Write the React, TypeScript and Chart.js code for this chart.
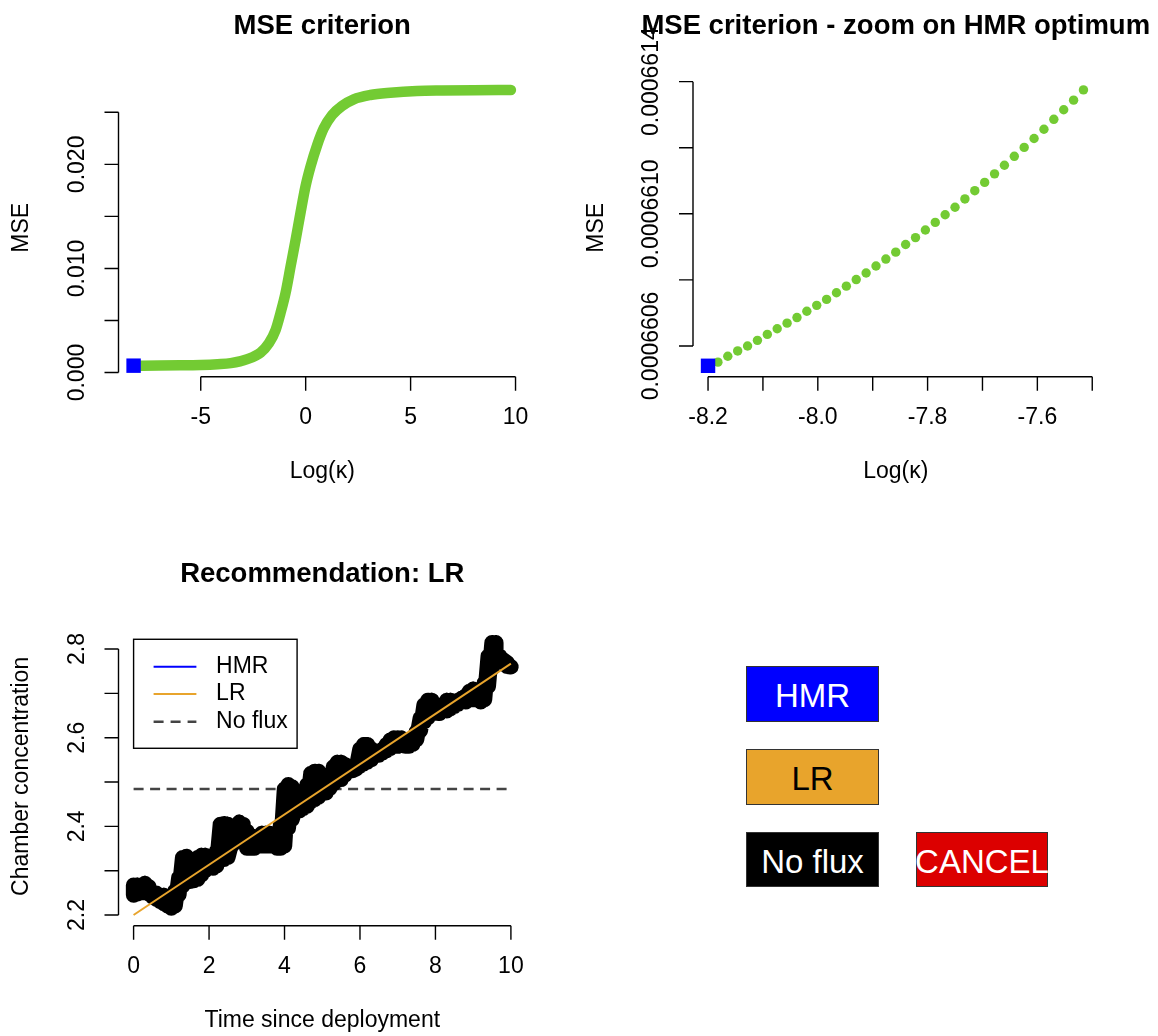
import React, { useEffect, useRef } from 'react';
import { Chart, registerables } from 'chart.js';

Chart.register(...registerables);

const FONT = '"Liberation Sans", Arial, Helvetica, sans-serif';
const GREEN = '#73CB33';
const BLUE = '#0000FF';
const ORANGE = '#E8A42C';
const RED = '#DC0000';
const DASH_GREY = '#444444';

// ---------- Panel 1: MSE criterion ----------
const mseLogK = [-8.2, -7.0, -6.0, -5.0, -4.2, -3.57, -2.78, -2.15, -1.75, -1.43, -1.2, -0.96, -0.72, -0.48, -0.25, -0.01, 0.23, 0.55, 0.86, 1.26, 1.73, 2.29, 3.08, 4.03, 5.3, 6.5, 8.0, 9.78];
const mseValues = [0.00066, 0.00067, 0.00069, 0.00073, 0.0008, 0.0009, 0.00129, 0.00192, 0.00282, 0.0041, 0.0057, 0.00762, 0.01018, 0.01274, 0.0153, 0.01786, 0.01978, 0.02186, 0.02346, 0.02474, 0.02561, 0.02625, 0.02666, 0.02688, 0.02705, 0.0271, 0.02713, 0.02714];
const hmrOptLogK = -8.2;
const hmrOptMse = 0.00066054;
const p1XRange = [-8.919, 10.499];
const p1YRange = [-0.000399, 0.028199];
const p1XTicks = [-5, 0, 5, 10];
const p1XLabels = ['-5', '0', '5', '10'];
const p1YTicks = [0, 0.005, 0.01, 0.015, 0.02, 0.025];
const p1YLabels = ['0.000', '', '0.010', '', '0.020', ''];

// ---------- Panel 2: zoom on HMR optimum ----------
const zoomLogK = [-8.2, -8.182, -8.164, -8.146, -8.128, -8.11, -8.092, -8.074, -8.056, -8.038, -8.02, -8.002, -7.984, -7.966, -7.948, -7.93, -7.912, -7.894, -7.876, -7.858, -7.84, -7.822, -7.804, -7.786, -7.768, -7.75, -7.732, -7.714, -7.696, -7.678, -7.66, -7.642, -7.624, -7.606, -7.588, -7.57, -7.552, -7.534, -7.516];
const zoomMse = [0.00066054, 0.000660551, 0.000660569, 0.000660585, 0.0006606, 0.000660617, 0.000660635, 0.000660652, 0.000660669, 0.000660686, 0.000660705, 0.000660723, 0.000660741, 0.000660761, 0.000660781, 0.000660801, 0.000660821, 0.000660842, 0.000660863, 0.000660884, 0.000660907, 0.000660928, 0.000660951, 0.000660974, 0.000660997, 0.00066102, 0.000661045, 0.00066107, 0.000661095, 0.000661121, 0.000661147, 0.000661174, 0.000661201, 0.000661228, 0.000661256, 0.000661286, 0.000661315, 0.000661344, 0.000661375];
const p2XRange = [-8.2274, -7.4886];
const p2YRange = [0.000660507, 0.000661408];
const p2XTicks = [-8.2, -8.1, -8.0, -7.9, -7.8, -7.7, -7.6, -7.5];
const p2XLabels = ['-8.2', '', '-8.0', '', '-7.8', '', '-7.6', ''];
const p2YTicks = [0.0006606, 0.0006608, 0.000661, 0.0006612, 0.0006614];
const p2YLabels = ['0.0006606', '', '0.0006610', '', '0.0006614'];

// ---------- Panel 3: chamber concentration ----------
const concTime = [0, 0.1, 0.2, 0.3, 0.4, 0.5, 0.6, 0.7, 0.8, 0.9, 1, 1.1, 1.2, 1.3, 1.4, 1.5, 1.6, 1.7, 1.8, 1.9, 2, 2.1, 2.2, 2.3, 2.4, 2.5, 2.6, 2.7, 2.8, 2.9, 3, 3.1, 3.2, 3.3, 3.4, 3.5, 3.6, 3.7, 3.8, 3.9, 4, 4.1, 4.2, 4.3, 4.4, 4.5, 4.6, 4.7, 4.8, 4.9, 5, 5.1, 5.2, 5.3, 5.4, 5.5, 5.6, 5.7, 5.8, 5.9, 6, 6.1, 6.2, 6.3, 6.4, 6.5, 6.6, 6.7, 6.8, 6.9, 7, 7.1, 7.2, 7.3, 7.4, 7.5, 7.6, 7.7, 7.8, 7.9, 8, 8.1, 8.2, 8.3, 8.4, 8.5, 8.6, 8.7, 8.8, 8.9, 9, 9.1, 9.2, 9.3, 9.4, 9.5, 9.6, 9.7, 9.8, 9.9, 10];
const concHigh = [2.267, 2.267, 2.264, 2.271, 2.264, 2.249, 2.249, 2.244, 2.244, 2.239, 2.234, 2.254, 2.284, 2.329, 2.332, 2.314, 2.284, 2.329, 2.334, 2.334, 2.324, 2.314, 2.344, 2.404, 2.406, 2.404, 2.364, 2.399, 2.409, 2.404, 2.389, 2.379, 2.374, 2.374, 2.384, 2.384, 2.384, 2.379, 2.384, 2.404, 2.484, 2.494, 2.489, 2.444, 2.444, 2.464, 2.494, 2.519, 2.524, 2.524, 2.514, 2.484, 2.514, 2.534, 2.544, 2.544, 2.539, 2.534, 2.534, 2.53, 2.574, 2.584, 2.584, 2.574, 2.565, 2.569, 2.574, 2.584, 2.594, 2.599, 2.599, 2.599, 2.594, 2.584, 2.594, 2.614, 2.644, 2.674, 2.684, 2.684, 2.674, 2.655, 2.674, 2.684, 2.684, 2.674, 2.684, 2.689, 2.694, 2.704, 2.709, 2.704, 2.689, 2.724, 2.784, 2.814, 2.814, 2.784, 2.775, 2.769, 2.76];
const concLow = [2.245, 2.248, 2.251, 2.251, 2.248, 2.241, 2.236, 2.231, 2.226, 2.221, 2.216, 2.221, 2.246, 2.266, 2.286, 2.276, 2.278, 2.281, 2.291, 2.301, 2.306, 2.306, 2.311, 2.326, 2.326, 2.331, 2.356, 2.366, 2.366, 2.366, 2.351, 2.351, 2.351, 2.356, 2.356, 2.356, 2.356, 2.356, 2.351, 2.351, 2.356, 2.396, 2.416, 2.436, 2.436, 2.441, 2.446, 2.456, 2.461, 2.466, 2.476, 2.476, 2.486, 2.496, 2.506, 2.506, 2.516, 2.526, 2.526, 2.53, 2.536, 2.541, 2.546, 2.551, 2.565, 2.561, 2.566, 2.571, 2.576, 2.581, 2.581, 2.586, 2.581, 2.581, 2.586, 2.596, 2.616, 2.636, 2.646, 2.656, 2.656, 2.655, 2.661, 2.661, 2.666, 2.671, 2.676, 2.681, 2.681, 2.686, 2.686, 2.686, 2.681, 2.686, 2.716, 2.756, 2.776, 2.781, 2.775, 2.761, 2.76];
const lrTime = [0, 10];
const lrFit = [2.2, 2.767];
const noFluxTime = [0, 10];
const noFluxLevel = [2.484, 2.484];
const p3XRange = [-0.4, 10.4];
const p3YRange = [2.1759, 2.8497];
const p3XTicks = [0, 2, 4, 6, 8, 10];
const p3XLabels = ['0', '2', '4', '6', '8', '10'];
const p3YTicks = [2.2, 2.3, 2.4, 2.5, 2.6, 2.7, 2.8];
const p3YLabels = ['2.2', '', '2.4', '', '2.6', '', '2.8'];
const legendLabels = ['HMR', 'LR', 'No flux'];
const legendColors = [BLUE, ORANGE, DASH_GREY];
const legendAnchor = [0, 2.822];

// ---------- Panel 4: buttons ----------
const buttonLabels = ['HMR', 'LR', 'No flux', 'CANCEL'];
const buttonFills = [BLUE, ORANGE, '#000000', RED];
const buttonText = ['#FFFFFF', '#000000', '#FFFFFF', '#FFFFFF'];
const buttonBoxes = [
  { left: 746, top: 666, width: 133, height: 56 },
  { left: 746, top: 749, width: 133, height: 56 },
  { left: 746, top: 832, width: 133, height: 55 },
  { left: 916, top: 832, width: 132, height: 55 },
];

const TICK_LEN = 14;
const TICK_FONT = 23;
const TITLE_FONT = 27.5;

const rAxesPlugin = {
  id: 'rAxes',
  afterDraw(chart: any, _args: any, opts: any) {
    const ctx = chart.ctx as CanvasRenderingContext2D;
    const xs = chart.scales.x;
    const ys = chart.scales.y;
    const ca = chart.chartArea;
    ctx.save();
    ctx.strokeStyle = '#000';
    ctx.fillStyle = '#000';
    ctx.lineWidth = 1.4;

    const xp = opts.xTicks.map((v: number) => xs.getPixelForValue(v));
    ctx.beginPath();
    ctx.moveTo(xp[0], ca.bottom);
    ctx.lineTo(xp[xp.length - 1], ca.bottom);
    xp.forEach((p: number) => {
      ctx.moveTo(p, ca.bottom);
      ctx.lineTo(p, ca.bottom + TICK_LEN);
    });
    ctx.stroke();

    const yp = opts.yTicks.map((v: number) => ys.getPixelForValue(v));
    ctx.beginPath();
    ctx.moveTo(ca.left, yp[0]);
    ctx.lineTo(ca.left, yp[yp.length - 1]);
    yp.forEach((p: number) => {
      ctx.moveTo(ca.left, p);
      ctx.lineTo(ca.left - TICK_LEN, p);
    });
    ctx.stroke();

    ctx.font = `${TICK_FONT}px ${FONT}`;
    ctx.textAlign = 'center';
    ctx.textBaseline = 'middle';
    xp.forEach((p: number, i: number) => {
      if (opts.xLabels[i]) ctx.fillText(opts.xLabels[i], p, ca.bottom + 41);
    });
    yp.forEach((p: number, i: number) => {
      if (!opts.yLabels[i]) return;
      ctx.save();
      ctx.translate(ca.left - 41, p);
      ctx.rotate(-Math.PI / 2);
      ctx.fillText(opts.yLabels[i], 0, 0);
      ctx.restore();
    });

    const cx = (ca.left + ca.right) / 2;
    const cy = (ca.top + ca.bottom) / 2;
    ctx.fillText(opts.xTitle, cx, ca.bottom + 94.5);
    ctx.save();
    ctx.translate(ca.left - 96.5, cy);
    ctx.rotate(-Math.PI / 2);
    ctx.fillText(opts.yTitle, 0, 0);
    ctx.restore();

    ctx.font = `bold ${TITLE_FONT}px ${FONT}`;
    ctx.fillText(opts.title, cx, 26);

    if (opts.legend) {
      const lg = opts.legend;
      const lx = xs.getPixelForValue(lg.anchor[0]);
      const ly = ys.getPixelForValue(lg.anchor[1]);
      const w = 163.5;
      const h = 109;
      ctx.lineWidth = 1.4;
      ctx.strokeStyle = '#000';
      ctx.strokeRect(lx, ly, w, h);
      const rows = [27.4, 54.7, 82.4];
      ctx.font = `${TICK_FONT}px ${FONT}`;
      ctx.textAlign = 'left';
      lg.labels.forEach((lab: string, i: number) => {
        ctx.save();
        ctx.strokeStyle = lg.colors[i];
        ctx.lineWidth = i === 2 ? 2.5 : 2;
        if (i === 2) ctx.setLineDash([10, 7]);
        ctx.beginPath();
        ctx.moveTo(lx + 20, ly + rows[i]);
        ctx.lineTo(lx + 62.8, ly + rows[i]);
        ctx.stroke();
        ctx.restore();
        ctx.fillStyle = '#000';
        ctx.fillText(lab, lx + 82.5, ly + rows[i]);
      });
    }
    ctx.restore();
  },
};

function baseOptions(pad: any, xr: number[], yr: number[], axes: any) {
  return {
    responsive: false,
    animation: false,
    events: [],
    layout: { padding: pad },
    scales: {
      x: { type: 'linear', min: xr[0], max: xr[1], display: false },
      y: { type: 'linear', min: yr[0], max: yr[1], display: false },
    },
    plugins: {
      legend: { display: false },
      tooltip: { enabled: false },
      title: { display: false },
      rAxes: axes,
    },
  };
}

function makePanel1() {
  return {
    type: 'line',
    data: {
      datasets: [
        {
          data: [{ x: hmrOptLogK, y: hmrOptMse }],
          showLine: false,
          pointStyle: 'rect',
          pointRadius: 10.2,
          backgroundColor: BLUE,
          borderWidth: 0,
          order: 0,
          clip: false,
        },
        {
          data: mseLogK.map((x, i) => ({ x, y: mseValues[i] })),
          borderColor: GREEN,
          borderWidth: 10.5,
          borderCapStyle: 'round',
          borderJoinStyle: 'round',
          cubicInterpolationMode: 'monotone',
          pointRadius: 0,
          order: 1,
          clip: false,
        },
      ],
    },
    options: baseOptions({ left: 118.5, right: 53, top: 79, bottom: 141.3 }, p1XRange, p1YRange, {
      title: 'MSE criterion',
      xTitle: 'Log(\u03BA)',
      yTitle: 'MSE',
      xTicks: p1XTicks,
      xLabels: p1XLabels,
      yTicks: p1YTicks,
      yLabels: p1YLabels,
    }),
    plugins: [rAxesPlugin],
  };
}

function makePanel2() {
  return {
    type: 'line',
    data: {
      datasets: [
        {
          data: [{ x: hmrOptLogK, y: hmrOptMse }],
          showLine: false,
          pointStyle: 'rect',
          pointRadius: 10.2,
          backgroundColor: BLUE,
          borderWidth: 0,
          order: 0,
          clip: false,
        },
        {
          data: zoomLogK.map((x, i) => ({ x, y: zoomMse[i] })),
          showLine: false,
          pointStyle: 'circle',
          pointRadius: 4.7,
          backgroundColor: GREEN,
          borderWidth: 0,
          order: 1,
          clip: false,
        },
      ],
    },
    options: baseOptions({ left: 114, right: 59.5, top: 79, bottom: 141.3 }, p2XRange, p2YRange, {
      title: 'MSE criterion - zoom on HMR optimum',
      xTitle: 'Log(\u03BA)',
      yTitle: 'MSE',
      xTicks: p2XTicks,
      xLabels: p2XLabels,
      yTicks: p2YTicks,
      yLabels: p2YLabels,
    }),
    plugins: [rAxesPlugin],
  };
}

function makePanel3() {
  const band: { x: number; y: number }[] = [];
  concTime.forEach((t, i) => {
    band.push({ x: t, y: concHigh[i] });
    band.push({ x: t, y: concLow[i] });
  });
  return {
    type: 'line',
    data: {
      datasets: [
        {
          data: lrTime.map((x, i) => ({ x, y: lrFit[i] })),
          borderColor: ORANGE,
          borderWidth: 2,
          pointRadius: 0,
          order: 0,
          clip: false,
        },
        {
          data: band,
          borderColor: '#000000',
          borderWidth: 15.5,
          borderCapStyle: 'round',
          borderJoinStyle: 'round',
          pointRadius: 0,
          order: 1,
          clip: false,
        },
        {
          data: noFluxTime.map((x, i) => ({ x, y: noFluxLevel[i] })),
          borderColor: DASH_GREY,
          borderWidth: 2.5,
          borderDash: [10, 6.5],
          pointRadius: 0,
          order: 2,
          clip: false,
        },
      ],
    },
    options: baseOptions({ left: 118.5, right: 53, top: 79, bottom: 110.3 }, p3XRange, p3YRange, {
      title: 'Recommendation: LR',
      xTitle: 'Time since deployment',
      yTitle: 'Chamber concentration',
      xTicks: p3XTicks,
      xLabels: p3XLabels,
      yTicks: p3YTicks,
      yLabels: p3YLabels,
      legend: { labels: legendLabels, colors: legendColors, anchor: legendAnchor },
    }),
    plugins: [rAxesPlugin],
  };
}

function Panel({ left, top, width, height, make }: any) {
  const ref = useRef<HTMLCanvasElement>(null);
  useEffect(() => {
    const chart = new Chart(ref.current as HTMLCanvasElement, make() as any);
    return () => chart.destroy();
  }, []);
  return (
    <canvas
      ref={ref}
      width={width}
      height={height}
      style={{ position: 'absolute', left, top, width, height }}
    />
  );
}

export default function App() {
  return (
    <div
      style={{
        position: 'absolute',
        left: 0,
        top: 0,
        width: 1158,
        height: 1036,
        background: '#FFFFFF',
        overflow: 'hidden',
      }}
    >
      <Panel left={0} top={0} width={579} height={518} make={makePanel1} />
      <Panel left={579} top={0} width={579} height={518} make={makePanel2} />
      <Panel left={0} top={548} width={579} height={488} make={makePanel3} />
      {buttonLabels.map((lab, i) => (
        <div
          key={lab}
          style={{
            position: 'absolute',
            left: buttonBoxes[i].left,
            top: buttonBoxes[i].top,
            width: buttonBoxes[i].width,
            height: buttonBoxes[i].height,
            boxSizing: 'border-box',
            background: buttonFills[i],
            border: '1.5px solid #333333',
            color: buttonText[i],
            fontFamily: FONT,
            fontSize: 33,
            display: 'flex',
            alignItems: 'center',
            justifyContent: 'center',
            whiteSpace: 'nowrap',
            overflow: 'visible',
            paddingTop: 4,
          }}
        >
          {lab}
        </div>
      ))}
    </div>
  );
}
